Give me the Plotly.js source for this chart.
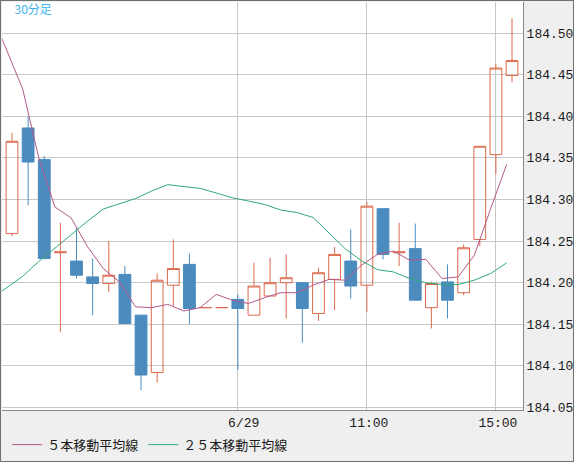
<!DOCTYPE html>
<html>
<head>
<meta charset="utf-8">
<script src="https://cdn.plot.ly/plotly-3.0.1.min.js"></script>
<style>
html,body{margin:0;padding:0;background:#efefef;}
#chart{width:574px;height:462px;box-sizing:border-box;border:1px solid #707070;}
</style>
</head>
<body>
<div id="chart"></div>
<script>
// 30-minute bars (index 0..31)
const times = [
  '06/27 00:00','06/27 00:30','06/27 01:00','06/27 01:30','06/27 02:00','06/27 02:30','06/27 03:00','06/27 03:30',
  '06/27 04:00','06/27 04:30','06/27 05:00','06/27 05:30','06/27 06:00','06/27 06:30',
  '06/29 07:00','06/29 07:30','06/29 08:00','06/29 08:30','06/29 09:00','06/29 09:30','06/29 10:00','06/29 10:30',
  '06/29 11:00','06/29 11:30','06/29 12:00','06/29 12:30','06/29 13:00','06/29 13:30','06/29 14:00','06/29 14:30',
  '06/29 15:00','06/29 15:30'
];
const openP  = [184.259,184.386,184.348,184.236,184.226,184.207,184.199,184.210,184.161,184.092,184.197,184.222,184.170,184.170,184.180,184.161,184.184,184.200,184.200,184.163,184.204,184.226,184.197,184.289,184.236,184.241,184.170,184.201,184.188,184.252,184.354,184.449];
const highP  = [184.380,184.400,184.352,184.272,184.267,184.229,184.250,184.220,184.161,184.211,184.252,184.235,184.1701,184.1701,184.186,184.224,184.230,184.234,184.200,184.218,184.243,184.264,184.297,184.289,184.272,184.271,184.201,184.222,184.246,184.364,184.463,184.518];
const lowP   = [184.256,184.293,184.228,184.141,184.205,184.161,184.189,184.151,184.071,184.080,184.172,184.150,184.170,184.170,184.095,184.161,184.184,184.157,184.128,184.154,184.167,184.181,184.165,184.228,184.220,184.179,184.145,184.157,184.185,184.244,184.330,184.441];
const closeP = [184.370,184.345,184.229,184.237,184.209,184.199,184.209,184.151,184.089,184.203,184.217,184.169,184.1701,184.1701,184.169,184.196,184.200,184.206,184.169,184.212,184.234,184.196,184.292,184.234,184.237,184.179,184.199,184.179,184.242,184.364,184.458,184.467];

// moving averages, first value belongs to the bar before index 0
const maStartIndex = -1;
const ma5  = [184.527,184.479,184.433,184.350,184.291,184.278,184.244,184.217,184.201,184.171,184.170,184.174,184.166,184.170,184.186,184.179,184.175,184.182,184.188,184.188,184.197,184.204,184.203,184.221,184.234,184.238,184.227,184.228,184.205,184.207,184.233,184.288,184.342];
const ma25 = [184.180,184.1935,184.2077,184.2255,184.2417,184.2578,184.2736,184.2886,184.2946,184.3012,184.3102,184.3179,184.3155,184.3134,184.3078,184.3021,184.2982,184.2940,184.2874,184.2844,184.2785,184.2599,184.2408,184.2264,184.2157,184.2129,184.2049,184.1999,184.1977,184.1977,184.2031,184.2109,184.2237];

const tickTimes  = ['06/29 07:00','06/29 11:00','06/29 15:00'];
const tickLabels = ['\u00a06/29','11:00','15:00'];
const yTicks = [184.05,184.10,184.15,184.20,184.25,184.30,184.35,184.40,184.45,184.50];

const names = ['５本移動平均線','２５本移動平均線'];
const titleText = '30分足';

const barX = times.map((t,i)=>i);
const maShift = -0.34;
const maX = ma5.map((v,i)=>i + maStartIndex + maShift);

const cOrange = '#dc6a4c';
const cBlue = '#4b8bbe';

const traces = [
  {
    type:'candlestick', x:barX, open:openP, high:highP, low:lowP, close:closeP,
    increasing:{line:{color:cOrange,width:1}, fillcolor:'rgba(255,255,255,0)'},
    decreasing:{line:{color:cBlue,width:1}, fillcolor:cBlue},
    whiskerwidth:0, showlegend:false, hoverinfo:'skip'
  },
  {type:'scatter', mode:'lines', x:maX, y:ma5, name:names[0], line:{color:'#b5588a',width:1}, hoverinfo:'skip'},
  {type:'scatter', mode:'lines', x:maX, y:ma25, name:names[1], line:{color:'#2eab74',width:1}, hoverinfo:'skip'}
];

const layout = {
  width:572, height:460,
  margin:{l:1,r:50,t:1,b:49},
  paper_bgcolor:'#efefef', plot_bgcolor:'#ffffff',
  boxgap:0.27, boxgroupgap:0,
  title:{text:titleText, x:13.5/572, xanchor:'left', xref:'container', y:1-9/460, yanchor:'middle', yref:'container',
         font:{family:'Noto Sans CJK JP', size:12, color:'#3db5ea'}},
  xaxis:{
    type:'linear', range:[-0.62,31.68], rangeslider:{visible:false},
    tickvals:tickTimes.map(t=>times.indexOf(t)), ticktext:tickLabels,
    showgrid:true, gridcolor:'#c8c8c8', gridwidth:1, zeroline:false,
    showline:true, linecolor:'#888888', linewidth:1, ticks:'',
    ticklabelshift:2,
    tickfont:{family:'Liberation Mono', size:13, color:'#1a1a1a'}
  },
  yaxis:{
    side:'right', range:[184.047,184.5374], tickvals:yTicks, ticktext:yTicks.map(v=>v.toFixed(2)),
    showgrid:true, gridcolor:'#c8c8c8', gridwidth:1, zeroline:false,
    showline:true, linecolor:'#888888', linewidth:1, ticks:'',
    tickfont:{family:'Liberation Mono', size:13, color:'#1a1a1a'}
  },
  showlegend:true,
  legend:{orientation:'h', x:0.01, xanchor:'left', y:-0.085, yanchor:'middle', bgcolor:'rgba(0,0,0,0)',
          font:{family:'Noto Sans CJK JP', size:13, color:'#1a1a1a'}},
  hovermode:false
};

Plotly.newPlot('chart', traces, layout, {displayModeBar:false, staticPlot:true});
</script>
</body>
</html>
